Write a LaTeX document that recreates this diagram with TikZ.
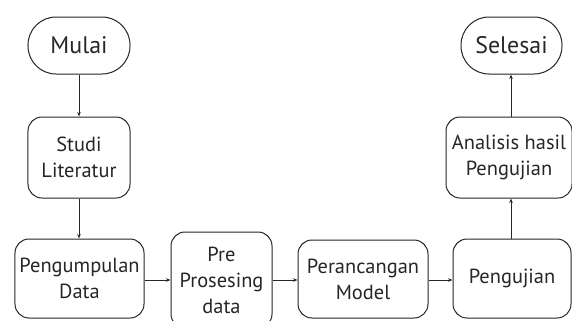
\documentclass[tikz,border=0pt]{standalone}
\usepackage{fontspec}
\setmainfont{PT Sans}
\usetikzlibrary{arrows.meta}
\definecolor{ink}{HTML}{262626}
\begin{document}
\begin{tikzpicture}[x=1bp,y=-1bp,
  box/.style={draw=ink, line width=1bp, rounded corners=14bp, inner sep=0pt,
    align=center, text=ink, font=\fontsize{20.5}{26}\selectfont},
  pill/.style={box, rounded corners=28bp, font=\fontsize{24}{28}\selectfont},
  conn/.style={draw=ink, line width=1bp, -{Stealth[length=4.5bp,width=3.5bp]}}]
\useasboundingbox (0,0) rectangle (572,320);
\clip (0,0) rectangle (572,320);
\fill[white] (0,0) rectangle (572,320);
\node[pill, minimum width=102bp, minimum height=57bp] (mulai) at (79,45.5) {Mulai};
\node[box, minimum width=102bp, minimum height=81bp] (studi) at (79,157.5) {Studi\\Literatur};
\node[box, minimum width=129bp, minimum height=79bp] (peng) at (79.5,278.5) {Pengumpulan\\Data};
\node[box, minimum width=101bp, minimum height=96bp] (pre) at (221.5,280) {Pre\\Prosesing\\data};
\node[box, minimum width=130bp, minimum height=78bp] (peran) at (363,279) {Perancangan\\Model};
\node[box, minimum width=118bp, minimum height=79bp] (uji) at (512,278.5) {Pengujian};
\node[box, minimum width=126bp, minimum height=81bp] (anal) at (509,157.5) {Analisis hasil\\Pengujian};
\node[pill, minimum width=101bp, minimum height=57bp] (selesai) at (511.5,45.5) {Selesai};
\draw[conn] (mulai.south) -- (studi.north);
\draw[conn] (studi.south) -- (peng.north -| studi.south);
\draw[conn] (peng.east |- 0,280) -- (pre.west |- 0,280);
\draw[conn] (pre.east |- 0,280) -- (peran.west |- 0,280);
\draw[conn] (peran.east |- 0,280) -- (uji.west |- 0,280);
\draw[conn] (uji.north -| 511,0) -- (anal.south -| 511,0);
\draw[conn] (anal.north -| 511,0) -- (selesai.south -| 511,0);
\end{tikzpicture}
\end{document}
